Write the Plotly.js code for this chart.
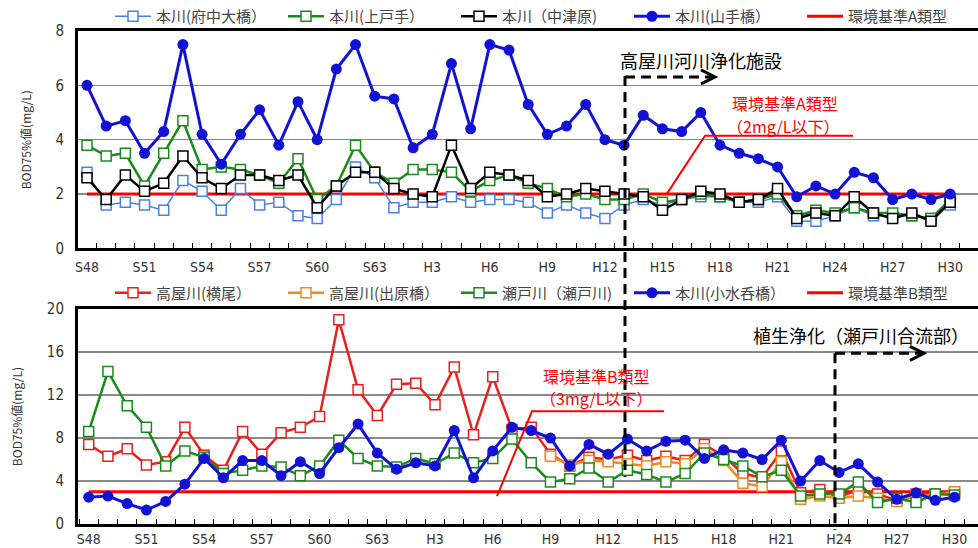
<!DOCTYPE html>
<html><head><meta charset="utf-8">
<script src="https://cdn.plot.ly/plotly-3.0.1.min.js"></script>
<style>html,body{margin:0;padding:0;background:#fff}#chart{width:978px;height:548px}</style>
</head><body><div id="chart"></div>
<script>
// ---- categories ----
const years = ['S48','S49','S50','S51','S52','S53','S54','S55','S56','S57','S58','S59','S60','S61','S62','S63',
  'H1','H2','H3','H4','H5','H6','H7','H8','H9','H10','H11','H12','H13','H14','H15','H16','H17','H18','H19','H20',
  'H21','H22','H23','H24','H25','H26','H27','H28','H29','H30'];
const tickText = ['S48','','','S51','','','S54','','','S57','','','S60','','','S63',
  '','','H3','','','H6','','','H9','','','H12','','','H15','','','H18','','',
  'H21','','','H24','','','H27','','','H30'];

// ---- top panel (BOD75%値, mg/L) ----
const fuchuOhashi = [2.8,1.6,1.7,1.6,1.4,2.5,2.1,1.4,2.2,1.6,1.7,1.2,1.1,1.8,3.0,2.6,
  1.5,1.7,1.7,1.9,1.7,1.8,1.8,1.7,1.3,1.6,1.3,1.1,1.6,1.8,1.6,1.8,1.9,1.9,1.7,1.7,
  1.9,1.0,1.0,1.2,1.5,1.2,1.2,1.2,1.1,1.6];
const kamitode = [3.8,3.4,3.5,2.3,3.5,4.7,2.9,3.0,2.9,2.7,2.4,3.3,1.8,2.3,3.8,2.8,
  2.4,2.9,2.9,2.8,2.1,2.5,2.7,2.4,2.2,1.9,2.0,1.8,1.8,2.0,1.7,1.8,2.0,1.9,1.7,1.8,
  2.0,1.2,1.4,1.3,1.5,1.3,1.3,1.2,1.1,1.8];
const nakatsuhara = [2.6,1.8,2.7,2.1,2.4,3.4,2.6,2.2,2.7,2.7,2.5,2.7,1.5,2.3,2.8,2.8,
  2.2,2.0,1.9,3.8,2.2,2.8,2.7,2.5,1.9,2.0,2.2,2.1,2.0,1.9,1.4,1.8,2.1,2.0,1.7,1.8,
  2.2,1.1,1.3,1.2,1.9,1.3,1.1,1.3,1.0,1.7];
const yamatebashi = [6.0,4.5,4.7,3.5,4.3,7.5,4.2,3.1,4.2,5.1,3.8,5.4,4.0,6.6,7.5,5.6,
  5.5,3.7,4.2,6.8,4.4,7.5,7.3,5.3,4.2,4.5,5.3,4.0,3.8,4.9,4.4,4.3,5.0,3.8,3.5,3.3,
  3.0,1.9,2.3,2.0,2.8,2.6,1.8,2.0,1.8,2.0];
const standardA = [2,2,2,2,2,2,2,2,2,2,2,2,2,2,2,2,2,2,2,2,2,2,2,2,2,2,2,2,2,2,2,2,2,2,2,2,2,2,2,2,2,2,2,2,2,2];

// ---- bottom panel ----
const yokoo = [7.4,6.3,7.0,5.5,5.8,9.0,6.4,5.0,8.6,6.5,8.5,9.0,10.0,19.0,12.5,10.1,
  13.0,13.1,11.1,14.6,8.3,13.7,8.8,9.0,6.5,5.4,6.2,6.0,6.4,5.9,6.3,5.9,7.4,6.3,4.7,4.3,
  6.8,2.9,3.2,2.5,3.2,2.8,2.2,2.8,2.8,3.0];
const ideharabashi = [null,null,null,null,null,null,null,null,null,null,null,null,null,null,null,null,
  null,null,null,null,null,null,null,null,6.3,5.5,5.9,5.8,5.6,5.4,5.8,5.6,7.0,5.9,3.8,3.5,
  5.8,2.3,2.6,2.4,2.6,2.4,2.1,2.6,2.7,3.0];
const setogawa = [8.6,14.2,11.0,9.0,5.4,6.8,6.2,4.7,5.0,5.4,5.3,4.5,5.4,7.8,6.1,5.4,
  5.3,6.1,5.6,6.6,5.7,6.1,7.9,5.7,3.9,4.2,5.2,3.9,5.0,4.6,3.9,4.7,6.6,6.0,5.4,4.4,
  5.0,2.6,2.8,2.8,3.9,2.0,2.4,2.0,2.8,2.7];
const komizunomibashi = [2.5,2.6,1.9,1.3,2.1,3.7,6.1,4.3,5.9,5.9,4.5,5.8,4.7,7.1,9.3,6.6,
  5.1,5.7,5.4,8.7,4.3,6.8,9.0,8.7,8.0,5.4,7.4,6.5,7.9,6.8,7.7,7.8,6.1,6.9,6.6,6.0,
  7.8,4.0,5.9,4.8,5.6,3.9,2.3,2.9,2.2,2.5];
const standardB = [3,3,3,3,3,3,3,3,3,3,3,3,3,3,3,3,3,3,3,3,3,3,3,3,3,3,3,3,3,3,3,3,3,3,3,3,3,3,3,3,3,3,3,3,3,3];

// ---- helpers (pixel -> paper) ----
const L = 78, R = 978, T = 30, B = 524;
const px = x => (x - L) / (R - L);
const py = y => (B - y) / (B - T);

const JP = '"Noto Sans CJK JP", "Noto Sans", sans-serif';
const NUM = '"Liberation Sans Narrow", "DejaVu Sans Condensed", "Noto Sans CJK JP", sans-serif';

function sq(name, y, color, lw, xa, ya, lg, rank) {
  return {type:'scatter', mode:'lines+markers', name:name, x:years, y:y, xaxis:xa, yaxis:ya, legend:lg, legendrank:rank,
    line:{color:color, width:lw}, connectgaps:false,
    marker:{symbol:'square', size:10, color:'#ffffff', line:{color:color, width:1.5}}};
}
function circ(name, y, color, xa, ya, lg, rank) {
  return {type:'scatter', mode:'lines+markers', name:name, x:years, y:y, xaxis:xa, yaxis:ya, legend:lg, legendrank:rank,
    line:{color:color, width:3}, marker:{symbol:'circle', size:11, color:color}};
}
function std(name, y, xa, ya, lg) {
  return {type:'scatter', mode:'lines', name:name, x:years, y:y, xaxis:xa, yaxis:ya, legend:lg, legendrank:5,
    line:{color:'#ff0000', width:3}};
}

const traces = [
  std('環境基準A類型', standardA, 'x', 'y', 'legend'),
  sq('本川(府中大橋）', fuchuOhashi, '#4a7fe6', 1.5, 'x', 'y', 'legend', 1),
  sq('本川(上戸手）', kamitode, '#1a8a1a', 2.5, 'x', 'y', 'legend', 2),
  sq('本川（中津原)', nakatsuhara, '#000000', 2.5, 'x', 'y', 'legend', 3),
  circ('本川(山手橋）', yamatebashi, '#1212d6', 'x', 'y', 'legend', 4),
  std('環境基準B類型', standardB, 'x2', 'y2', 'legend2'),
  sq('高屋川(横尾）', yokoo, '#e8201e', 2.5, 'x2', 'y2', 'legend2', 1),
  sq('高屋川(出原橋）', ideharabashi, '#f08a1c', 2.5, 'x2', 'y2', 'legend2', 2),
  sq('瀬戸川（瀬戸川)', setogawa, '#1a8a1a', 2.5, 'x2', 'y2', 'legend2', 3),
  circ('本川(小水呑橋）', komizunomibashi, '#1212d6', 'x2', 'y2', 'legend2', 4)
];

function xax(anchor, range, standoff) {
  return {type:'category', anchor:anchor, domain:[0,1], range:range, tickmode:'array', tickvals:years, ticktext:tickText,
    tickson:'boundaries', ticks:'inside', ticklen:5, tickwidth:1, tickcolor:'#000', tickangle:0,
    showline:true, linewidth:3, linecolor:'#000', mirror:true, showgrid:false, zeroline:false,
    ticklabelstandoff:standoff, tickfont:{family:NUM, size:14, color:'#333'}};
}
function yax(anchor, domain, range, dtick) {
  return {anchor:anchor, domain:domain, range:range, dtick:dtick, tick0:0, tickmode:'linear',
    showgrid:true, gridcolor:'#8a8a8a', gridwidth:1.5, showline:true, linewidth:3, linecolor:'#000', mirror:true,
    zeroline:false, ticks:'', ticklabelstandoff:8, tickfont:{family:NUM, size:15, color:'#333'},
    title:{text:'BOD75%値(mg/L)', font:{family:JP, size:12, color:'#333'}, standoff:22}};
}

const dashLine = {color:'#000', width:3, dash:'10px,6px'};
const solidBlack = {color:'#000', width:3};
const redThin = {color:'#ff0000', width:2};

const shapes = [
  {type:'line', xref:'paper', yref:'paper', x0:px(625), x1:px(625), y0:py(75), y1:py(477), line:dashLine},
  {type:'line', xref:'paper', yref:'paper', x0:px(625), x1:px(712), y0:py(76), y1:py(76), line:dashLine},
  {type:'path', xref:'paper', yref:'paper', path:`M${px(701)},${py(69)} L${px(715)},${py(76)} L${px(701)},${py(83)}`, line:solidBlack},
  {type:'line', xref:'paper', yref:'paper', x0:px(835), x1:px(835), y0:py(353), y1:py(530), line:dashLine},
  {type:'line', xref:'paper', yref:'paper', x0:px(835), x1:px(921), y0:py(353), y1:py(353), line:dashLine},
  {type:'path', xref:'paper', yref:'paper', path:`M${px(910)},${py(346)} L${px(924)},${py(353)} L${px(910)},${py(360)}`, line:solidBlack},
  {type:'path', xref:'paper', yref:'paper', path:`M${px(853)},${py(135)} L${px(705)},${py(135)} L${px(667)},${py(193)}`, line:redThin},
  {type:'path', xref:'paper', yref:'paper', path:`M${px(664)},${py(411)} L${px(532)},${py(411)} L${px(497)},${py(496)}`, line:redThin}
];

function ann(text, x, y, color, size) {
  return {text:text, xref:'paper', yref:'paper', x:px(x), y:py(y), xanchor:'center', yanchor:'middle',
    showarrow:false, font:{family:JP, size:size, color:color}};
}
const annotations = [
  ann('高屋川河川浄化施設', 701, 59, '#000', 18),
  ann('環境基準A類型', 785, 102, '#ff0000', 16),
  ann('（2mg/L以下）', 783, 125, '#ff0000', 16),
  ann('植生浄化（瀬戸川合流部）', 861, 335, '#000', 18),
  ann('環境基準B類型', 596, 376, '#ff0000', 16),
  ann('（3mg/L以下）', 596, 398, '#ff0000', 16)
];

function leg(y) {
  return {orientation:'h', x:px(110), xanchor:'left', y:py(y), yanchor:'middle', itemwidth:36,
    entrywidth:122, entrywidthmode:'pixels', bgcolor:'rgba(0,0,0,0)', borderwidth:0,
    font:{family:JP, size:15, color:'#444'}};
}

const layout = {
  width:978, height:548, autosize:false,
  margin:{l:L, r:978-R, t:T, b:548-B, pad:0},
  paper_bgcolor:'#fff', plot_bgcolor:'#fff',
  font:{family:JP, size:13, color:'#333'},
  showlegend:true,
  xaxis: xax('y', [-0.469, 46.45], 4),
  yaxis: yax('x', [0.559, 1], [0, 8], 2),
  xaxis2: xax('y2', [-0.556, 46.22], 0),
  yaxis2: yax('x2', [0, 0.436], [0, 20], 4),
  legend: leg(15),
  legend2: leg(293),
  shapes: shapes,
  annotations: annotations
};

Plotly.newPlot('chart', traces, layout, {displayModeBar:false, staticPlot:true});
</script>
</body></html>
